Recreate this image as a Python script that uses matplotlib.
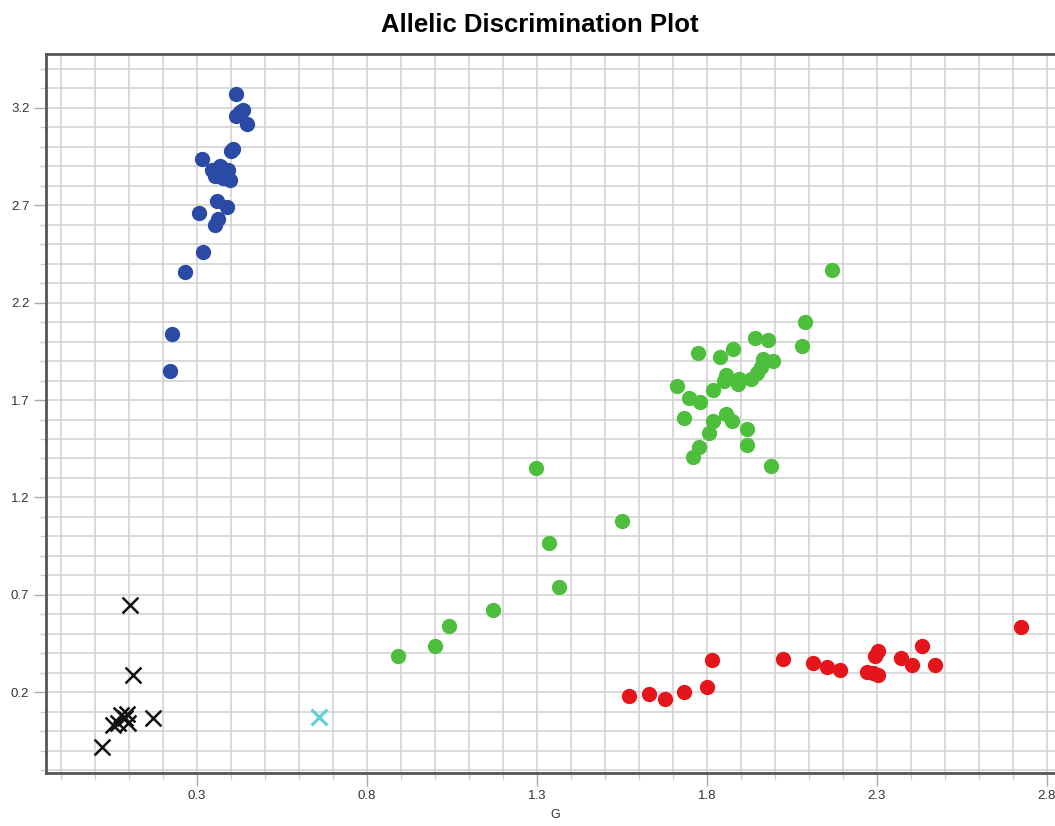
import numpy as np
import matplotlib
matplotlib.use("Agg")
import matplotlib.pyplot as plt

plt.rcParams['font.family'] = ['Liberation Sans', 'DejaVu Sans']

# allele 2 (blue)
blue_x = [0.414, 0.426, 0.414, 0.436, 0.446, 0.407, 0.399, 0.314, 0.343, 0.368,
          0.363, 0.392, 0.397, 0.377, 0.353, 0.360, 0.389, 0.306, 0.361, 0.353,
          0.319, 0.265, 0.226, 0.221]
blue_y = [3.27, 3.18, 3.16, 3.19, 3.12, 2.99, 2.98, 2.94, 2.88, 2.90,
          2.86, 2.88, 2.83, 2.84, 2.85, 2.72, 2.69, 2.66, 2.63, 2.60,
          2.46, 2.36, 2.04, 1.85]

# heterozygous (green)
green_x = [2.168, 2.088, 2.079, 1.940, 1.980, 1.774, 1.838, 1.876, 1.994, 1.965,
           1.958, 1.947, 1.930, 1.856, 1.851, 1.890, 1.893, 1.712, 1.746, 1.779,
           1.731, 1.856, 1.875, 1.819, 1.807, 1.917, 1.919, 1.776, 1.760, 1.987,
           1.819, 1.297, 1.550, 1.335, 1.365, 1.171, 1.041, 1.000, 0.891]
green_y = [2.37, 2.10, 1.98, 2.02, 2.01, 1.94, 1.92, 1.96, 1.90, 1.91,
           1.87, 1.84, 1.81, 1.83, 1.80, 1.78, 1.81, 1.77, 1.71, 1.69,
           1.61, 1.63, 1.59, 1.59, 1.53, 1.55, 1.47, 1.46, 1.41, 1.36,
           1.75, 1.35, 1.08, 0.966, 0.74, 0.62, 0.54, 0.437, 0.385]

# allele 1 (red)
red_x = [1.572, 1.629, 1.676, 1.733, 1.799, 1.816, 2.025, 2.113, 2.154, 2.191,
         2.270, 2.289, 2.304, 2.304, 2.294, 2.370, 2.402, 2.431, 2.470, 2.723]
red_y = [0.180, 0.190, 0.163, 0.200, 0.225, 0.365, 0.370, 0.350, 0.327, 0.313,
         0.305, 0.300, 0.288, 0.412, 0.385, 0.378, 0.342, 0.437, 0.342, 0.533]

# no template controls / undetermined
ntc_x = [0.103, 0.111, 0.170, 0.020, 0.054, 0.078, 0.088, 0.098, 0.069, 0.093]
ntc_y = [0.647, 0.290, 0.065, -0.084, 0.030, 0.082, 0.065, 0.040, 0.040, 0.087]
und_x = [0.659]
und_y = [0.074]

xticks = [0.3, 0.8, 1.3, 1.8, 2.3, 2.8]
yticks = [0.2, 0.7, 1.2, 1.7, 2.2, 2.7, 3.2]

fig = plt.figure(figsize=(10.55, 8.26), dpi=100)
ax = fig.add_axes([46/1055, 1-773/826, (1064-46)/1055, (773-54)/826])

ax.set_xlim(-0.144, 2.85)
ax.set_ylim(-0.215, 3.477)

ax.set_xticks(xticks)
ax.set_yticks(yticks)
ax.set_xticks(np.arange(-0.1, 2.85, 0.1), minor=True)
ax.set_yticks(np.arange(-0.2, 3.45, 0.1), minor=True)
ax.grid(True, which='both', color='#cfcfcf', lw=1.1)
ax.set_axisbelow(True)

ax.tick_params(which='major', length=9, width=1, color='#aaaaaa',
               labelsize=9.5, labelcolor='#333333', pad=3)
ax.tick_params(which='minor', length=4, width=1, color='#cccccc')

for s in ['left', 'bottom', 'top']:
    ax.spines[s].set_color('#555555')
    ax.spines[s].set_linewidth(2)
ax.spines['right'].set_visible(False)

ax.scatter(blue_x, blue_y, s=100, color='#2a4aa6', zorder=3)
ax.scatter(green_x, green_y, s=100, color='#4dbf3c', zorder=3)
ax.scatter(red_x, red_y, s=100, color='#e5161b', zorder=3)
ax.scatter(ntc_x, ntc_y, s=130, marker='x', color='#111111', linewidths=1.8, zorder=3)
ax.scatter(und_x, und_y, s=130, marker='x', color='#5fd0d6', linewidths=2.2, zorder=3)

ax.set_xlabel('G', fontsize=9, color='#333333', labelpad=5)

fig.text(540/1055, 1-25/826, 'Allelic Discrimination Plot', ha='center', va='center',
         fontsize=18.5, fontweight='bold')

fig.savefig('out.png', dpi=100)
